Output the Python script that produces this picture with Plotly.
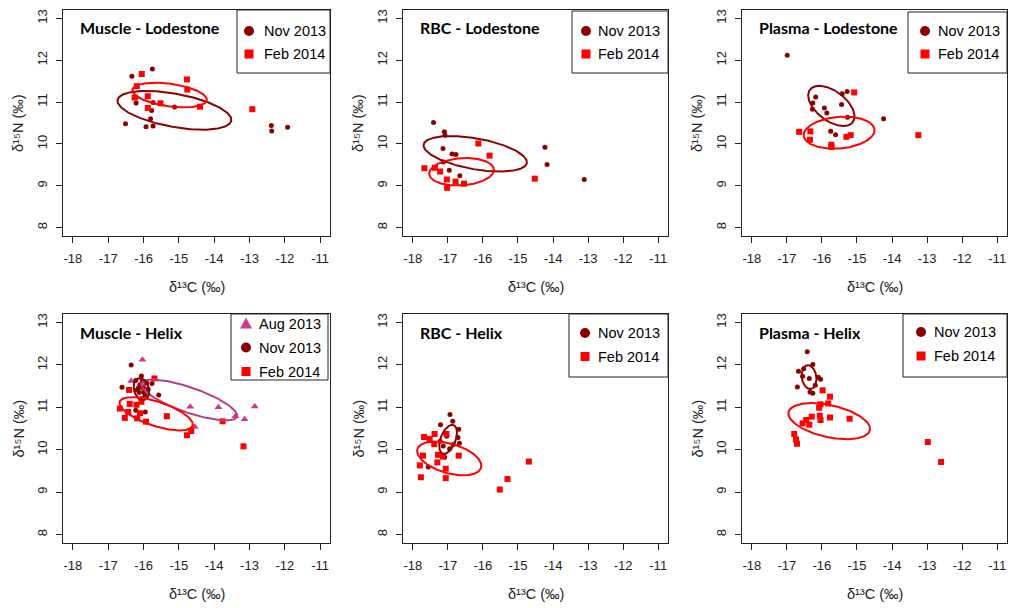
import numpy as np
import plotly.graph_objects as go

# ---------------- data ----------------
x_ticks = [-18, -17, -16, -15, -14, -13, -12, -11]
y_ticks = [8, 9, 10, 11, 12, 13]

# Muscle - Lodestone
mus_lod_nov_x = [-16.33, -15.75, -16.21, -16.21, -15.73, -15.77, -15.80, -16.51, -15.93, -15.73, -15.12, -12.38, -12.37, -11.92]
mus_lod_nov_y = [11.62, 11.79, 11.11, 10.98, 10.99, 10.80, 10.60, 10.48, 10.41, 10.43, 10.88, 10.44, 10.31, 10.40]
mus_lod_feb_x = [-16.05, -16.19, -15.88, -15.88, -15.52, -14.77, -14.76, -14.40, -12.92, -16.25]
mus_lod_feb_y = [11.67, 11.38, 11.14, 10.86, 10.97, 11.54, 11.30, 10.89, 10.83, 11.11]

# RBC - Lodestone
rbc_lod_nov_x = [-17.41, -17.10, -17.08, -17.14, -16.88, -16.77, -16.96, -16.66, -14.23, -14.17, -13.11, -17.13]
rbc_lod_nov_y = [10.51, 10.29, 10.21, 9.89, 9.76, 9.75, 9.37, 9.24, 9.92, 9.51, 9.15, 9.57]
rbc_lod_feb_x = [-17.67, -17.37, -17.22, -17.03, -17.02, -16.78, -16.54, -16.13, -15.81, -14.52]
rbc_lod_feb_y = [9.42, 9.43, 9.34, 9.15, 8.95, 9.10, 9.05, 10.01, 9.72, 9.17]

# Plasma - Lodestone
pla_lod_nov_x = [-16.99, -16.18, -16.26, -16.27, -15.93, -15.86, -15.42, -15.28, -15.44, -15.27, -15.75, -15.61, -14.24]
pla_lod_nov_y = [12.12, 11.12, 10.98, 10.83, 10.86, 10.74, 11.20, 11.25, 10.94, 10.64, 10.30, 10.22, 10.60]
pla_lod_feb_x = [-15.08, -16.65, -16.33, -16.34, -15.73, -15.73, -15.30, -15.18, -13.25]
pla_lod_feb_y = [11.23, 10.29, 10.30, 10.10, 9.98, 9.93, 10.17, 10.21, 10.21]

# Muscle - Helix
mus_hel_aug_x = [-16.03, -16.35, -14.68, -13.88, -13.14, -12.85, -14.55, -13.40, -15.99, -16.20]
mus_hel_aug_y = [12.12, 11.62, 11.01, 11.00, 10.72, 11.02, 10.54, 10.79, 11.49, 11.41]
mus_hel_nov_x = [-16.35, -16.06, -16.61, -16.22, -15.87, -15.76, -15.57, -16.22, -15.95, -16.10,
                 -16.01, -16.12, -15.96, -16.05, -16.18, -15.91, -16.03, -16.14, -15.99]
mus_hel_nov_y = [12.00, 11.74, 11.47, 11.63, 11.42, 11.56, 11.29, 10.93, 10.89, 11.53,
                 11.45, 11.35, 11.29, 11.21, 11.41, 11.57, 11.62, 11.46, 11.36]
mus_hel_feb_x = [-15.69, -16.41, -16.06, -16.39, -16.67, -16.43, -16.53, -16.18, -15.93, -15.34,
                 -13.76, -14.77, -14.65, -13.17, -16.20, -16.10]
mus_hel_feb_y = [11.68, 11.41, 11.13, 11.08, 10.97, 10.89, 10.75, 10.74, 10.66, 10.79,
                 10.67, 10.34, 10.44, 10.08, 11.06, 10.86]

# RBC - Helix
rbc_hel_nov_x = [-16.94, -16.86, -17.21, -16.69, -16.71, -17.03, -17.13, -16.95, -16.67, -17.09, -17.56, -17.22, -16.85]
rbc_hel_nov_y = [10.83, 10.67, 10.59, 10.48, 10.29, 10.32, 10.09, 10.02, 10.15, 9.82, 9.59, 10.20, 10.12]
rbc_hel_feb_x = [-17.68, -17.52, -17.38, -17.04, -17.39, -17.71, -17.28, -17.14, -17.30, -16.69,
                 -17.80, -17.06, -17.77, -17.06, -15.52, -15.30, -14.69]
rbc_hel_feb_y = [10.30, 10.25, 10.37, 10.37, 10.13, 9.86, 9.88, 9.84, 9.70, 9.86,
                 9.63, 9.55, 9.35, 9.33, 9.06, 9.31, 9.72]

# Plasma - Helix
pla_hel_nov_x = [-16.42, -16.67, -16.26, -16.55, -16.36, -16.10, -16.04, -16.70, -16.34, -16.26, -16.52, -16.19]
pla_hel_nov_y = [12.31, 11.85, 12.01, 11.73, 11.68, 11.71, 11.66, 11.48, 11.36, 11.33, 11.91, 11.52]
pla_hel_feb_x = [-15.98, -15.77, -15.82, -16.04, -16.08, -16.29, -16.06, -16.04, -15.77, -15.21,
                 -16.45, -16.55, -16.36, -16.79, -16.74, -16.71, -12.98, -12.60]
pla_hel_feb_y = [11.40, 11.25, 11.09, 11.07, 10.99, 10.78, 10.80, 10.70, 10.76, 10.73,
                 10.70, 10.62, 10.59, 10.37, 10.24, 10.14, 10.18, 9.71]

panel_titles = ["Muscle - Lodestone", "RBC - Lodestone", "Plasma - Lodestone",
                "Muscle - Helix", "RBC - Helix", "Plasma - Helix"]
label_aug, label_nov, label_feb = "Aug 2013", "Nov 2013", "Feb 2014"
x_title = "δ¹³C (‰)"
y_title = "δ¹⁵N (‰)"

# ---------------- styling ----------------
W, H = 1009, 608
C_NOV = "#8B0000"
C_FEB = "#FF0000"
C_AUG = "#CC3A8A"
C_AUG_LINE = "#B8407F"
AX = "#222222"
FONT = "Liberation Sans, Arial, sans-serif"

# plot boxes in pixels: (left, right, top, bottom)
boxes = [(63, 330, 10, 236), (403, 668, 10, 236), (742, 1007, 10, 236),
         (63, 330, 314, 543), (403, 668, 314, 543), (742, 1007, 314, 543)]

panels = [
    [(mus_lod_nov_x, mus_lod_nov_y, "nov"), (mus_lod_feb_x, mus_lod_feb_y, "feb")],
    [(rbc_lod_nov_x, rbc_lod_nov_y, "nov"), (rbc_lod_feb_x, rbc_lod_feb_y, "feb")],
    [(pla_lod_nov_x, pla_lod_nov_y, "nov"), (pla_lod_feb_x, pla_lod_feb_y, "feb")],
    [(mus_hel_aug_x, mus_hel_aug_y, "aug"), (mus_hel_nov_x, mus_hel_nov_y, "nov"), (mus_hel_feb_x, mus_hel_feb_y, "feb")],
    [(rbc_hel_nov_x, rbc_hel_nov_y, "nov"), (rbc_hel_feb_x, rbc_hel_feb_y, "feb")],
    [(pla_hel_nov_x, pla_hel_nov_y, "nov"), (pla_hel_feb_x, pla_hel_feb_y, "feb")],
]

style = {
    "nov": dict(symbol="circle", size=5, color=C_NOV, line=C_NOV, label=label_nov),
    "feb": dict(symbol="square", size=6, color=C_FEB, line=C_FEB, label=label_feb),
    "aug": dict(symbol="triangle-up", size=7, color=C_AUG, line=C_AUG_LINE, label=label_aug),
}

# legend boxes (px): (left, right, top, bottom, marker_x, text_x, item_ys)
legends = [
    (237, 330, 10, 73, 249, 262, [31, 54]),
    (572, 668, 11, 73, 586, 596, [31, 54]),
    (908, 1007, 12, 73, 925, 936, [31, 54]),
    (231, 328, 314, 380, 246, 257, [323.5, 347.5, 371.5]),
    (569, 668, 314, 377, 585, 596, [333, 356.5]),
    (903, 1007, 314, 377, 921, 932, [332, 356]),
]


def px(xp):
    return xp / W


def py(yp):
    return 1 - yp / H


def std_ellipse(x, y, n=240):
    x = np.asarray(x, float)
    y = np.asarray(y, float)
    cov = np.cov(x, y)
    vals, vecs = np.linalg.eigh(cov)
    t = np.linspace(0, 2 * np.pi, n)
    circ = np.vstack([np.cos(t), np.sin(t)])
    pts = vecs @ (np.sqrt(np.clip(vals, 0, None))[:, None] * circ)
    return x.mean() + pts[0], y.mean() + pts[1]


fig = go.Figure()
shapes = []
annotations = []

for i, (box, series) in enumerate(zip(boxes, panels)):
    k = i + 1
    xa = "x" if k == 1 else f"x{k}"
    ya = "y" if k == 1 else f"y{k}"
    left, right, top, bottom = box
    # points
    for sx, sy, key in series:
        st = style[key]
        fig.add_trace(go.Scatter(
            x=sx, y=sy, mode="markers", xaxis=xa, yaxis=ya, showlegend=False,
            name=st["label"],
            marker=dict(symbol=st["symbol"], size=st["size"], color=st["color"], line=dict(width=0)),
        ))
    # standard ellipses
    for sx, sy, key in series:
        st = style[key]
        ex, ey = std_ellipse(sx, sy)
        fig.add_trace(go.Scatter(
            x=ex, y=ey, mode="lines", xaxis=xa, yaxis=ya, showlegend=False,
            line=dict(color=st["line"], width=2), hoverinfo="skip",
        ))

    axis_common = dict(showgrid=False, zeroline=False, showline=True, mirror=True,
                       linecolor=AX, linewidth=1, ticks="outside", ticklen=6,
                       tickcolor=AX, tickwidth=1,
                       tickfont=dict(family=FONT, size=13, color=AX))
    fig.layout[f"xaxis{'' if k == 1 else k}"] = dict(
        axis_common, domain=[px(left), px(right)], range=[-18.28, -10.72],
        tickmode="array", tickvals=x_ticks, ticktext=[str(v) for v in x_ticks],
        anchor=ya, ticklabelstandoff=4)
    fig.layout[f"yaxis{'' if k == 1 else k}"] = dict(
        axis_common, domain=[py(bottom), py(top)], range=[7.8, 13.2],
        tickmode="array", tickvals=y_ticks, ticktext=[str(v) for v in y_ticks],
        anchor=xa, tickangle=-90, ticklabelstandoff=4)

    # panel title
    annotations.append(dict(
        xref="paper", yref="paper", x=px(left + 15), y=py(top + 18),
        xanchor="left", yanchor="middle", showarrow=False,
        text=panel_titles[i],
        font=dict(family="Lato, Carlito, sans-serif", size=16, color="black", weight="bold")))
    # axis titles
    annotations.append(dict(
        xref="paper", yref="paper", x=px((left + right) / 2), y=py(bottom + 51),
        xanchor="center", yanchor="middle", showarrow=False,
        text=x_title, font=dict(family=FONT, size=14.5, color=AX)))
    annotations.append(dict(
        xref="paper", yref="paper", x=px(left - 45), y=py((top + bottom) / 2),
        xanchor="center", yanchor="middle", showarrow=False, textangle=-90,
        text=y_title, font=dict(family=FONT, size=14.5, color=AX)))

    # legend box
    l0, l1, t0, b0, mx, tx, iys = legends[i]
    shapes.append(dict(type="rect", xref="paper", yref="paper",
                       x0=px(l0), x1=px(l1), y0=py(b0), y1=py(t0),
                       line=dict(color=AX, width=1), fillcolor="white", layer="above"))
    for (sx, sy, key), iy in zip(series, iys):
        st = style[key]
        if key == "nov":
            r = 5
            shapes.append(dict(type="circle", xref="paper", yref="paper",
                               x0=px(mx - r), x1=px(mx + r), y0=py(iy + r), y1=py(iy - r),
                               fillcolor=C_NOV, line=dict(width=0), layer="above"))
        elif key == "feb":
            r = 4.5
            shapes.append(dict(type="rect", xref="paper", yref="paper",
                               x0=px(mx - r), x1=px(mx + r), y0=py(iy + r), y1=py(iy - r),
                               fillcolor=C_FEB, line=dict(width=0), layer="above"))
        else:
            path = (f"M {px(mx - 6)} {py(iy + 5)} L {px(mx + 6)} {py(iy + 5)} "
                    f"L {px(mx)} {py(iy - 6)} Z")
            shapes.append(dict(type="path", xref="paper", yref="paper", path=path,
                               fillcolor=C_AUG, line=dict(width=0), layer="above"))
        annotations.append(dict(
            xref="paper", yref="paper", x=px(tx), y=py(iy),
            xanchor="left", yanchor="middle", showarrow=False,
            text=st["label"], font=dict(family=FONT, size=14.5, color="black")))

fig.update_layout(
    width=W, height=H, margin=dict(l=0, r=0, t=0, b=0),
    paper_bgcolor="white", plot_bgcolor="white",
    shapes=shapes, annotations=annotations, showlegend=False,
)

fig.write_html("out.html")
